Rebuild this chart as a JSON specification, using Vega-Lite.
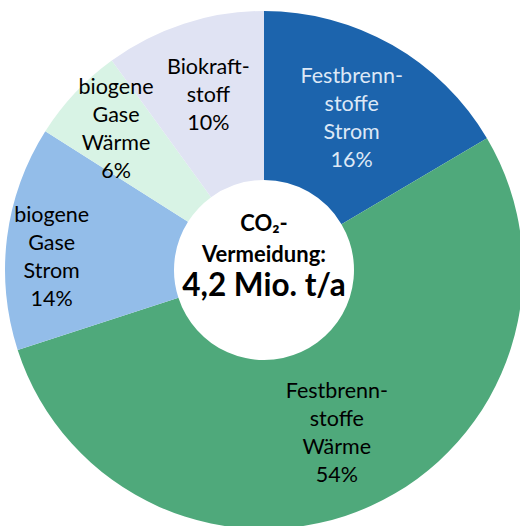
{
  "$schema": "https://vega.github.io/schema/vega-lite/v6.json",
  "width": 512,
  "height": 512,
  "autosize": {"type": "none"},
  "padding": {"left": 8, "top": 14, "right": 0, "bottom": 0},
  "background": "white",
  "view": {"stroke": null},
  "datasets": {
    "shares": [
      {"rank": 1, "category": "Festbrennstoffe Strom", "share": 16.5, "label": "Festbrenn-\nstoffe\nStrom\n16%"},
      {"rank": 2, "category": "Festbrennstoffe Wärme", "share": 53.5, "label": "Festbrenn-\nstoffe\nWärme\n54%"},
      {"rank": 3, "category": "biogene Gase Strom", "share": 14, "label": "biogene\nGase\nStrom\n14%"},
      {"rank": 4, "category": "biogene Gase Wärme", "share": 6, "label": "biogene\nGase\nWärme\n6%"},
      {"rank": 5, "category": "Biokraftstoff", "share": 10, "label": "Biokraft-\nstoff\n10%"}
    ],
    "center": [{"line1": "CO₂-\nVermeidung:", "line2": "4,2 Mio. t/a"}]
  },
  "layer": [
    {
      "data": {"name": "shares"},
      "mark": {"type": "arc", "outerRadius": 259, "innerRadius": 90},
      "encoding": {
        "theta": {"field": "share", "type": "quantitative", "stack": true},
        "order": {"field": "rank", "type": "quantitative"},
        "color": {
          "field": "category",
          "type": "nominal",
          "scale": {
            "domain": ["Festbrennstoffe Strom", "Festbrennstoffe Wärme", "biogene Gase Strom", "biogene Gase Wärme", "Biokraftstoff"],
            "range": ["#1c64ad", "#4fa97b", "#93bde9", "#d8f3e5", "#e0e3f3"]
          },
          "legend": null
        }
      }
    },
    {
      "data": {"name": "shares"},
      "mark": {"type": "text", "radius": 177, "dy": -39, "font": "Lato", "fontSize": 21.5, "lineBreak": "\n", "lineHeight": 28, "align": "center", "baseline": "middle"},
      "encoding": {
        "theta": {"field": "share", "type": "quantitative", "stack": true},
        "order": {"field": "rank", "type": "quantitative"},
        "detail": {"field": "category", "type": "nominal"},
        "text": {"condition": {"test": "datum.rank == 1 || datum.rank == 2", "field": "label"}, "value": ""},
        "color": {"condition": {"test": "datum.rank == 1", "value": "#dde8f6"}, "value": "#000000"}
      }
    },
    {
      "data": {"name": "shares"},
      "mark": {"type": "text", "radius": 180, "dy": -31, "font": "Lato", "fontSize": 21.5, "lineBreak": "\n", "lineHeight": 28, "align": "center", "baseline": "middle", "color": "#000000"},
      "encoding": {
        "theta": {"field": "share", "type": "quantitative", "stack": true},
        "order": {"field": "rank", "type": "quantitative"},
        "detail": {"field": "category", "type": "nominal"},
        "text": {"condition": {"test": "datum.rank == 5", "field": "label"}, "value": ""}
      }
    },
    {
      "data": {"name": "shares"},
      "mark": {"type": "text", "radius": 203, "dy": -43, "font": "Lato", "fontSize": 21.5, "lineBreak": "\n", "lineHeight": 28, "align": "center", "baseline": "middle", "color": "#000000"},
      "encoding": {
        "theta": {"field": "share", "type": "quantitative", "stack": true},
        "order": {"field": "rank", "type": "quantitative"},
        "detail": {"field": "category", "type": "nominal"},
        "text": {"condition": {"test": "datum.rank == 4", "field": "label"}, "value": ""}
      }
    },
    {
      "data": {"name": "shares"},
      "mark": {"type": "text", "radius": 214, "dy": -27, "font": "Lato", "fontSize": 21.5, "lineBreak": "\n", "lineHeight": 28, "align": "center", "baseline": "middle", "color": "#000000"},
      "encoding": {
        "theta": {"field": "share", "type": "quantitative", "stack": true},
        "order": {"field": "rank", "type": "quantitative"},
        "detail": {"field": "category", "type": "nominal"},
        "text": {"condition": {"test": "datum.rank == 3", "field": "label"}, "value": ""}
      }
    },
    {
      "data": {"name": "center"},
      "mark": {"type": "text", "font": "Lato", "fontWeight": "bold", "fontSize": 22, "lineBreak": "\n", "lineHeight": 31, "align": "center", "baseline": "middle", "dy": -46, "color": "#000000"},
      "encoding": {"text": {"field": "line1"}}
    },
    {
      "data": {"name": "center"},
      "mark": {"type": "text", "font": "Lato", "fontWeight": "bold", "fontSize": 31.5, "align": "center", "baseline": "middle", "dy": 17, "color": "#000000"},
      "encoding": {"text": {"field": "line2"}}
    }
  ]
}
